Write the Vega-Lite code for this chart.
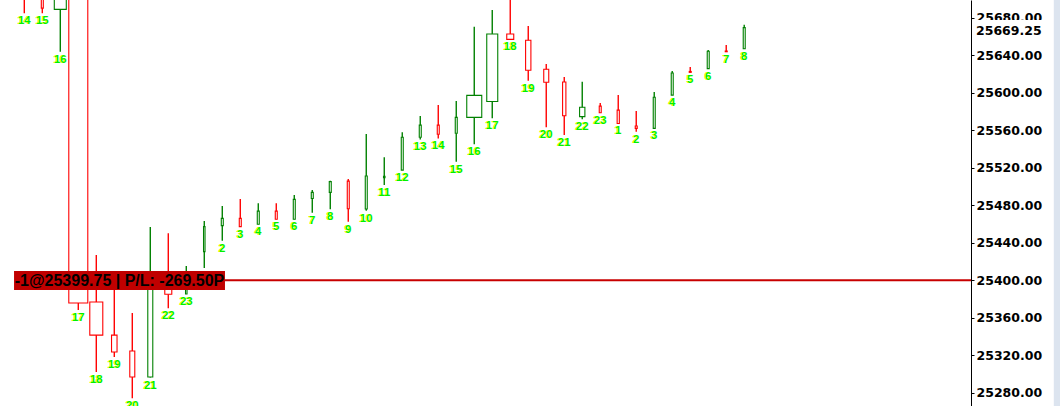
{
  "$schema": "https://vega.github.io/schema/vega-lite/v6.json",
  "width": 971,
  "height": 406,
  "autosize": {"type": "none"},
  "padding": {"left": 0, "top": 0, "right": 89, "bottom": 0},
  "background": "white",
  "config": {"view": {"stroke": null}},
  "datasets": {
    "candles": [
      {"i": 0, "lbl": "14", "o": 25715, "h": 25722, "l": 25684.5, "c": 25702, "vol": 20},
      {"i": 1, "lbl": "15", "o": 25702, "h": 25708, "l": 25684.5, "c": 25690, "vol": 20},
      {"i": 2, "lbl": "16", "o": 25688.75, "h": 25760, "l": 25643.5, "c": 25745, "vol": 120},
      {"i": 3, "lbl": "17", "o": 25740, "h": 25750, "l": 25368, "c": 25375.5, "vol": 190},
      {"i": 4, "lbl": "18", "o": 25376.5, "h": 25426.75, "l": 25302, "c": 25341.25, "vol": 130},
      {"i": 5, "lbl": "19", "o": 25341.25, "h": 25395, "l": 25318, "c": 25323.25, "vol": 55},
      {"i": 6, "lbl": "20", "o": 25324.25, "h": 25364.75, "l": 25274, "c": 25296.5, "vol": 50},
      {"i": 7, "lbl": "21", "o": 25296.5, "h": 25456.5, "l": 25296, "c": 25402, "vol": 50},
      {"i": 8, "lbl": "22", "o": 25393, "h": 25450, "l": 25370, "c": 25384.75, "vol": 70},
      {"i": 9, "lbl": "23", "o": 25385, "h": 25415, "l": 25385, "c": 25395, "vol": 15},
      {"i": 10, "lbl": "1", "o": 25430.25, "h": 25463, "l": 25412.75, "c": 25457, "vol": 15},
      {"i": 11, "lbl": "2", "o": 25458, "h": 25479, "l": 25442, "c": 25465.75, "vol": 20},
      {"i": 12, "lbl": "3", "o": 25465.75, "h": 25486.5, "l": 25457, "c": 25457, "vol": 20},
      {"i": 13, "lbl": "4", "o": 25459.5, "h": 25481.75, "l": 25459.5, "c": 25473.5, "vol": 20},
      {"i": 14, "lbl": "5", "o": 25473.5, "h": 25481.75, "l": 25464.75, "c": 25464.75, "vol": 20},
      {"i": 15, "lbl": "6", "o": 25464.75, "h": 25490.75, "l": 25464.75, "c": 25486, "vol": 20},
      {"i": 16, "lbl": "7", "o": 25487, "h": 25496, "l": 25471.75, "c": 25493.5, "vol": 20},
      {"i": 17, "lbl": "8", "o": 25493.5, "h": 25506, "l": 25475.5, "c": 25505, "vol": 20},
      {"i": 18, "lbl": "9", "o": 25505.5, "h": 25507.75, "l": 25462.25, "c": 25476, "vol": 20},
      {"i": 19, "lbl": "10", "o": 25475.75, "h": 25555.75, "l": 25474, "c": 25511, "vol": 20},
      {"i": 20, "lbl": "11", "o": 25509.25, "h": 25531, "l": 25501.25, "c": 25510.5, "vol": 15},
      {"i": 21, "lbl": "12", "o": 25517.25, "h": 25557.5, "l": 25517.25, "c": 25552.25, "vol": 20},
      {"i": 22, "lbl": "13", "o": 25552.25, "h": 25575, "l": 25550, "c": 25565.25, "vol": 20},
      {"i": 23, "lbl": "14", "o": 25565.25, "h": 25586.75, "l": 25551, "c": 25555.5, "vol": 20},
      {"i": 24, "lbl": "15", "o": 25556.5, "h": 25591, "l": 25526.25, "c": 25573.5, "vol": 20},
      {"i": 25, "lbl": "16", "o": 25573.5, "h": 25670.25, "l": 25544.75, "c": 25597, "vol": 150},
      {"i": 26, "lbl": "17", "o": 25590.5, "h": 25688, "l": 25572.5, "c": 25662.5, "vol": 110},
      {"i": 27, "lbl": "18", "o": 25662.5, "h": 25705, "l": 25656.75, "c": 25656.75, "vol": 70},
      {"i": 28, "lbl": "19", "o": 25655.75, "h": 25671, "l": 25612.5, "c": 25623.75, "vol": 53},
      {"i": 29, "lbl": "20", "o": 25624.75, "h": 25630.5, "l": 25563, "c": 25611, "vol": 50},
      {"i": 30, "lbl": "21", "o": 25611.25, "h": 25616.5, "l": 25554.75, "c": 25575.25, "vol": 33},
      {"i": 31, "lbl": "22", "o": 25574.25, "h": 25611.5, "l": 25571.5, "c": 25584.25, "vol": 53},
      {"i": 32, "lbl": "23", "o": 25585.5, "h": 25588.75, "l": 25578.5, "c": 25578.5, "vol": 20},
      {"i": 33, "lbl": "1", "o": 25581.25, "h": 25597.25, "l": 25567, "c": 25567, "vol": 22},
      {"i": 34, "lbl": "2", "o": 25564.25, "h": 25580.25, "l": 25558.25, "c": 25561.75, "vol": 20},
      {"i": 35, "lbl": "3", "o": 25561.75, "h": 25600.5, "l": 25561.75, "c": 25595, "vol": 20},
      {"i": 36, "lbl": "4", "o": 25597.25, "h": 25623, "l": 25597.25, "c": 25620.75, "vol": 20},
      {"i": 37, "lbl": "5", "o": 25622.5, "h": 25627.25, "l": 25621.5, "c": 25621.5, "vol": 20},
      {"i": 38, "lbl": "6", "o": 25625.5, "h": 25645.25, "l": 25625.5, "c": 25644, "vol": 20},
      {"i": 39, "lbl": "7", "o": 25644.25, "h": 25650.75, "l": 25643.5, "c": 25643.5, "vol": 20},
      {"i": 40, "lbl": "8", "o": 25646.75, "h": 25672.25, "l": 25646.75, "c": 25669.25, "vol": 20}
    ]
  },
  "data": {"name": "candles"},
  "layer": [
    {
      "mark": {"type": "rule", "strokeWidth": 1.4, "clip": true},
      "encoding": {
        "x": {"field": "i", "type": "quantitative", "scale": {"domain": [-1.35, 52.6], "nice": false, "zero": false, "padding": 0}, "axis": null},
        "y": {"field": "h", "type": "quantitative",
          "scale": {"domain": [25265.6, 25698.7], "nice": false, "zero": false, "padding": 0},
          "axis": {
            "orient": "right", "title": null, "grid": false,
            "values": [25280, 25320, 25360, 25400, 25440, 25480, 25520, 25560, 25600, 25640, 25680],
            "format": ".2f",
            "labelFont": "DejaVu Sans", "labelFontWeight": "bold", "labelFontSize": 12.5,
            "labelColor": "#000000", "labelPadding": 2, "labelBaseline": "middle",
            "domainColor": "#000000", "domainWidth": 1,
            "tickColor": "#000000", "tickSize": 3, "tickWidth": 1,
            "labelOverlap": false, "labelFlush": false
          }
        },
        "y2": {"field": "l"},
        "stroke": {"condition": {"test": "datum.c >= datum.o", "value": "#008000"}, "value": "#ff0000"}
      }
    },
    {
      "mark": {"type": "bar", "fill": "white", "strokeWidth": 1.1, "clip": true},
      "encoding": {
        "x": {"field": "i", "type": "quantitative"},
        "y": {"field": "o", "type": "quantitative"},
        "y2": {"field": "c"},
        "size": {"field": "vol", "type": "quantitative", "scale": {"type": "linear", "domain": [0, 200], "range": [0, 20]}, "legend": null},
        "stroke": {"condition": {"test": "datum.c >= datum.o", "value": "#008000"}, "value": "#ff0000"}
      }
    },
    {
      "mark": {"type": "text", "font": "Liberation Sans", "fontWeight": "bold", "fontSize": 11.5, "fill": "#ffff00", "dx": -1, "dy": 8, "baseline": "middle", "align": "center"},
      "encoding": {
        "x": {"field": "i", "type": "quantitative"},
        "y": {"field": "l", "type": "quantitative"},
        "text": {"field": "lbl"}
      }
    },
    {
      "mark": {"type": "text", "font": "Liberation Sans", "fontWeight": "bold", "fontSize": 11.5, "fill": "#00f000", "dx": 0, "dy": 8, "baseline": "middle", "align": "center"},
      "encoding": {
        "x": {"field": "i", "type": "quantitative"},
        "y": {"field": "l", "type": "quantitative"},
        "text": {"field": "lbl"}
      }
    },
    {
      "transform": [{"filter": "datum.i == 0"}],
      "mark": {"type": "rule", "stroke": "#c80000", "strokeWidth": 2},
      "encoding": {
        "x": {"datum": 11.15, "type": "quantitative"},
        "x2": {"datum": 52.6},
        "y": {"datum": 25399.75, "type": "quantitative"}
      }
    },
    {
      "transform": [{"filter": "datum.i == 0"}],
      "mark": {"type": "rect", "fill": "#c00000"},
      "encoding": {
        "x": {"datum": -0.57, "type": "quantitative"},
        "x2": {"datum": 11.15},
        "y": {"datum": 25389.3, "type": "quantitative"},
        "y2": {"datum": 25409.6}
      }
    },
    {
      "transform": [{"filter": "datum.i == 0"}],
      "mark": {"type": "text", "font": "Liberation Sans", "fontWeight": "bold", "fontSize": 16, "fill": "#000000", "align": "center", "baseline": "middle", "dy": 1},
      "encoding": {
        "x": {"datum": 5.29, "type": "quantitative"},
        "y": {"datum": 25399.5, "type": "quantitative"},
        "text": {"value": "-1@25399.75 | P/L: -269.50P"}
      }
    },
    {
      "transform": [{"filter": "datum.i == 0"}],
      "mark": {"type": "rect", "fill": "white", "clip": false},
      "encoding": {
        "x": {"datum": 52.66, "type": "quantitative"},
        "x2": {"datum": 57.0},
        "y": {"datum": 25656.5, "type": "quantitative"},
        "y2": {"datum": 25677.3}
      }
    },
    {
      "transform": [{"filter": "datum.i == 0"}],
      "mark": {"type": "rect", "fill": "#dce4ef", "clip": false},
      "encoding": {
        "x": {"datum": 57.2, "type": "quantitative"},
        "x2": {"datum": 57.6},
        "y": {"datum": 25265.6, "type": "quantitative"},
        "y2": {"datum": 25698.7}
      }
    },
    {
      "transform": [{"filter": "datum.i == 0"}],
      "mark": {"type": "text", "font": "DejaVu Sans", "fontWeight": "bold", "fontSize": 12.5, "fill": "#000000", "align": "left", "baseline": "middle", "dx": 5, "dy": 3},
      "encoding": {
        "x": {"datum": 52.6, "type": "quantitative"},
        "y": {"datum": 25669.25, "type": "quantitative"},
        "text": {"value": "25669.25"}
      }
    }
  ]
}
